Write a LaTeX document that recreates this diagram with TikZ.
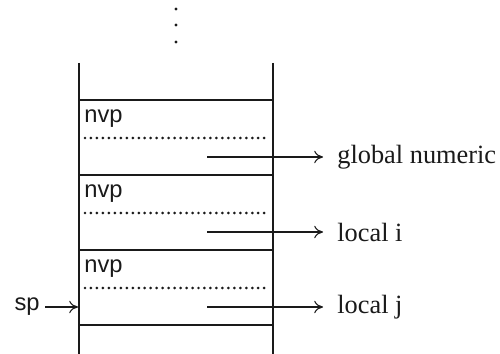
\documentclass[tikz,border=0pt]{standalone}
\usepackage{fontspec}
\setmainfont{Liberation Serif}
\setsansfont{Liberation Sans}
\usetikzlibrary{positioning, arrows.meta, calc}
\definecolor{ink}{HTML}{1a1a1a}

\begin{document}
\begin{tikzpicture}[x=0.02cm, y=-0.02cm, wall/.style={draw=ink, line width=0.6pt}, sep/.style={draw=ink, line width=1.7pt, line cap=round, dash pattern=on 0pt off 3.4pt}, reg/.style={font=\sffamily\fontsize{13.5}{15}\selectfont, text=ink, inner sep=0pt}, var/.style={font=\fontsize{15}{17}\selectfont, text=ink, anchor=west, inner sep=0pt}, arr/.style={-{To[length=5pt, width=7pt]}, draw=ink, line width=0.6pt}]
\useasboundingbox (0,0) rectangle (500,354);
% continuation dots
\foreach \y in {9,25,42} \fill[ink] (176,\y) circle (1.6);
% stack walls
\draw[wall] (79,63) -- (79,354); \draw[wall] (273,63) -- (273,354);
\foreach \y in {100,175,250,325} \draw[wall] (79,\y) -- (273,\y);
% frames
\foreach \t/\n in {100/g, 175/i, 250/j} {
\node[reg, anchor=west] (nvp\n) at (84,\t+19) {nvp};
\draw[sep] (85,\t+38) -- (270,\t+38);
\coordinate (slot\n) at (207,\t+57);
}
\node[var] (glob) at (337,157) {global numeric};
\node[var] (loci) at (337,232) {local i};
\node[var] (locj) at (337,307) {local j};
\draw[arr, shorten >=0.28cm] (slotg) -- (glob); \draw[arr, shorten >=0.28cm] (sloti) -- (loci); \draw[arr, shorten >=0.28cm] (slotj) -- (locj);
\node[reg, anchor=east] (sp) at (40,307) {sp};
\coordinate (top) at (78,307);
\draw[arr, shorten <=0.1cm] (sp) -- (top);
\end{tikzpicture}
\end{document}
